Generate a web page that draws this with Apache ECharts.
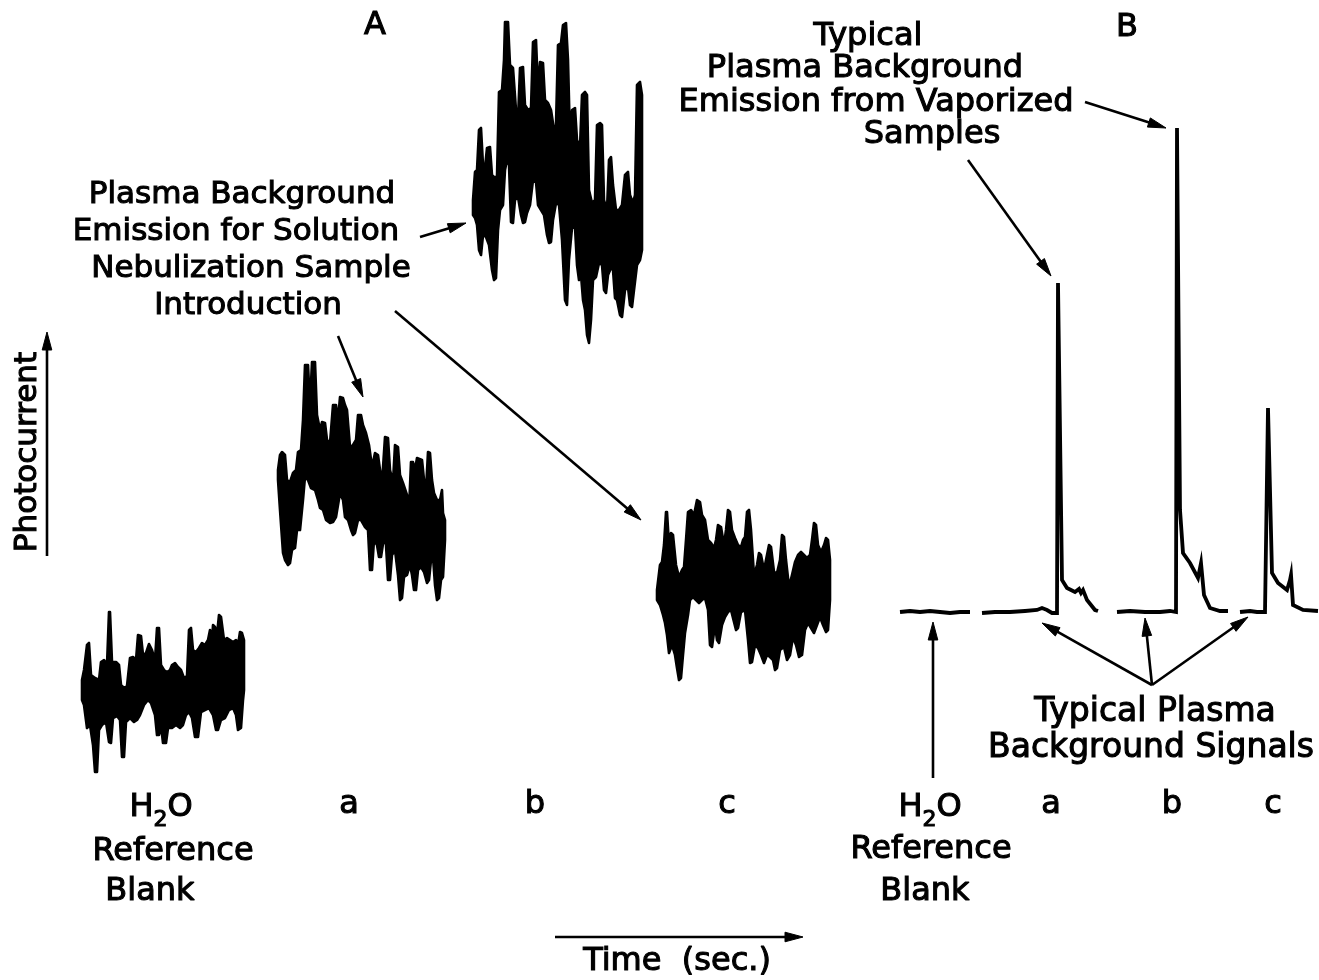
<!DOCTYPE html>
<html>
<head>
<meta charset="utf-8">
<script src="https://cdn.jsdelivr.net/npm/echarts@6/dist/echarts.min.js"></script>
<style>
  html, body { margin: 0; padding: 0; background: #fff; }
  #chart { width: 1319px; height: 980px; }
</style>
</head>
<body>
<div id="chart"></div>
<script>
// Recorder traces: time and photocurrent both in arbitrary chart units.
// Solution nebulization (panel A): each noisy trace is given by the
// upper and lower envelope of the recorded signal.
const blankA_upper = [[82,300],[84,310],[87,335],[89,337],[91,305],[95,302],[99,300],[101,318],[104,320],[107,315],[109,368],[110,368],[112,318],[116,318],[119,315],[121,295],[124,292],[127,294],[130,322],[133,323],[136,320],[138,345],[141,344],[143,325],[146,327],[149,336],[152,330],[155,320],[157,352],[159,352],[161,315],[164,310],[167,308],[170,310],[172,315],[175,317],[178,313],[181,310],[184,302],[187,304],[189,350],[191,352],[193,330],[196,328],[199,332],[202,337],[205,335],[208,340],[210,350],[212,340],[213,355],[215,353],[217,345],[219,365],[221,363],[224,340],[227,342],[230,340],[233,338],[236,340],[238,335],[240,348],[242,347],[244,340]];
const blankA_lower = [[82,280],[84,275],[87,252],[90,255],[93,235],[95,208],[97,208],[99,250],[102,255],[106,258],[109,238],[111,237],[113,262],[117,264],[120,260],[122,223],[124,223],[126,258],[130,262],[134,258],[137,260],[140,265],[144,275],[148,280],[151,277],[155,265],[157,245],[159,245],[161,255],[163,237],[166,237],[168,252],[172,252],[176,255],[180,252],[183,255],[186,265],[189,268],[192,262],[195,243],[198,243],[201,268],[205,270],[209,272],[213,265],[216,250],[218,250],[221,260],[225,262],[229,270],[233,272],[236,265],[238,250],[241,252],[243,280],[244,290]];

const sampleA_upper = [[278,510],[280,525],[282,528],[285,525],[287,500],[290,498],[293,507],[296,510],[298,528],[301,530],[303,560],[305,615],[308,615],[310,575],[312,618],[315,618],[317,565],[320,550],[322,558],[325,557],[327,540],[330,537],[333,575],[336,575],[338,560],[340,583],[343,582],[345,575],[347,570],[350,533],[353,535],[356,540],[358,565],[361,565],[363,555],[366,547],[369,535],[372,513],[375,527],[378,525],[380,510],[382,497],[385,543],[388,542],[390,510],[393,498],[395,535],[398,533],[400,505],[403,497],[407,485],[409,470],[411,518],[413,518],[415,510],[417,522],[422,520],[424,500],[426,490],[428,528],[430,527],[432,500],[434,487],[437,480],[440,480],[442,490],[443,467],[445,460]];
const sampleA_lower = [[278,500],[280,470],[283,427],[285,420],[288,415],[290,417],[292,430],[295,432],[297,450],[300,450],[303,480],[305,503],[308,500],[311,492],[315,490],[318,480],[320,472],[323,470],[326,460],[330,457],[333,458],[336,463],[338,475],[340,487],[343,480],[345,463],[348,460],[351,450],[353,445],[355,447],[358,460],[361,460],[365,453],[368,450],[370,410],[372,410],[374,440],[377,435],[379,423],[381,423],[384,443],[386,435],[388,400],[390,400],[392,425],[395,430],[398,405],[400,380],[402,382],[404,403],[407,405],[410,415],[412,405],[414,390],[416,390],[418,410],[421,413],[424,408],[427,397],[429,400],[431,420],[433,423],[435,395],[437,380],[439,382],[441,400],[443,403],[445,440]];

const sampleB_upper = [[473,780],[475,808],[477,810],[479,850],[481,852],[483,815],[485,812],[487,832],[490,833],[492,805],[495,802],[497,804],[499,888],[502,890],[504,920],[505,958],[508,958],[510,915],[513,912],[516,870],[518,860],[520,912],[523,913],[525,875],[528,870],[531,872],[533,938],[536,940],[538,890],[540,918],[543,917],[545,880],[548,877],[551,870],[554,850],[556,855],[558,935],[561,937],[563,955],[566,957],[568,920],[570,840],[572,870],[575,872],[577,840],[580,833],[582,885],[585,888],[587,885],[589,790],[592,777],[595,780],[597,855],[600,857],[602,855],[604,780],[607,770],[609,820],[611,823],[613,795],[616,770],[619,770],[622,775],[625,805],[628,808],[630,785],[633,777],[635,785],[637,895],[640,898],[642,885]];
const sampleB_lower = [[473,765],[475,762],[477,755],[479,730],[481,725],[483,745],[486,743],[489,735],[492,710],[494,700],[496,702],[498,750],[500,770],[503,775],[505,810],[507,820],[509,815],[511,758],[513,757],[515,780],[518,783],[521,765],[523,757],[525,758],[527,767],[530,775],[533,800],[536,798],[538,775],[541,770],[544,765],[547,745],[549,737],[551,738],[553,760],[556,777],[559,775],[562,740],[565,680],[567,675],[569,720],[572,752],[575,753],[577,715],[579,700],[581,705],[583,680],[585,670],[587,645],[589,637],[591,660],[593,700],[596,703],[599,717],[602,715],[604,690],[606,687],[608,705],[611,712],[613,710],[615,682],[617,680],[620,665],[622,663],[625,690],[628,693],[630,675],[632,673],[634,690],[637,715],[640,720],[642,730]];

const sampleC_upper = [[657,390],[660,415],[662,418],[664,435],[666,468],[667,468],[669,435],[671,447],[673,445],[676,415],[679,403],[682,410],[684,413],[686,440],[688,468],[691,470],[694,465],[697,480],[700,478],[702,465],[705,460],[708,440],[711,437],[714,432],[716,440],[718,455],[721,453],[724,435],[726,450],[728,470],[730,468],[732,450],[735,442],[738,435],[741,433],[743,440],[745,443],[747,468],[749,470],[751,450],[754,405],[757,415],[759,427],[761,425],[764,410],[767,425],[769,435],[771,433],[774,408],[777,407],[780,420],[782,445],[784,443],[786,420],[789,393],[792,405],[795,418],[798,425],[801,428],[804,425],[807,422],[810,425],[812,440],[814,457],[816,455],[818,435],[821,428],[824,435],[826,442],[828,440],[830,420]];
const sampleC_lower = [[657,380],[660,375],[663,365],[665,357],[667,345],[669,327],[672,335],[675,325],[677,312],[679,300],[681,302],[683,325],[685,347],[688,365],[690,380],[693,383],[696,380],[699,377],[702,380],[705,382],[708,370],[710,335],[712,333],[715,355],[717,340],[719,337],[722,355],[725,363],[728,368],[731,370],[734,358],[736,350],[738,352],[741,368],[745,370],[748,340],[750,317],[752,318],[755,335],[758,332],[761,325],[764,317],[767,325],[770,323],[773,320],[775,310],[777,312],[780,330],[784,333],[787,320],[790,325],[793,343],[796,335],[799,323],[802,325],[805,350],[808,357],[811,352],[814,347],[817,355],[820,363],[823,355],[826,348],[828,350],[830,380]];

// Electrothermal vaporization (panel B): single-pass traces.
const blankB = [[900,368],[910,369],[920,368],[930,369],[940,368],[950,367],[960,368],[970,368]];
const vapA = [[982,367],[995,368],[1010,368],[1025,369],[1037,370],[1042,372],[1047,370],[1052,367],[1057,367],[1058,697],[1062,400],[1067,392],[1075,388],[1079,391],[1081,387],[1083,390],[1087,380],[1091,375],[1095,370],[1098,369]];
const vapB = [[1117,368],[1130,369],[1145,368],[1160,368],[1170,369],[1176,368],[1177,852],[1180,470],[1183,427],[1190,417],[1198,402],[1201,417],[1202,417],[1204,385],[1210,372],[1220,369],[1228,369]];
const vapC = [[1240,368],[1250,369],[1257,368],[1265,368],[1267,368],[1268,572],[1272,407],[1278,397],[1287,390],[1290,400],[1291,405],[1293,375],[1303,370],[1318,369]];

// Annotation text and pointer arrows, placed in chart units.
const FONT = '"DejaVu Sans", "Liberation Sans", sans-serif';
const H2O = '{n|H}{s|2}{n|O}';
const notes = [
  { text: 'A', at: [375, 954], size: 32 },
  { text: 'B', at: [1127, 952], size: 32 },
  { text: 'Typical', at: [868, 943], size: 32 },
  { text: 'Plasma Background', at: [865, 911], size: 32 },
  { text: 'Emission from Vaporized', at: [876, 877], size: 32 },
  { text: 'Samples', at: [932, 845], size: 32 },
  { text: 'Plasma Background', at: [242, 785], size: 31 },
  { text: 'Emission for Solution', at: [236, 748], size: 31 },
  { text: 'Nebulization Sample', at: [251, 711], size: 31 },
  { text: 'Introduction', at: [248, 674], size: 31 },
  { text: 'Photocurrent', at: [28, 528], size: 31, rotate: true },
  { text: H2O, at: [161, 172], size: 32 },
  { text: 'Reference', at: [173, 128], size: 32 },
  { text: 'Blank', at: [150, 88], size: 32 },
  { text: 'a', at: [349, 175], size: 32 },
  { text: 'b', at: [535, 175], size: 32 },
  { text: 'c', at: [727, 175], size: 32 },
  { text: H2O, at: [930, 172], size: 32 },
  { text: 'Reference', at: [931, 130], size: 32 },
  { text: 'Blank', at: [925, 88], size: 32 },
  { text: 'a', at: [1051, 175], size: 32 },
  { text: 'b', at: [1172, 175], size: 32 },
  { text: 'c', at: [1273, 175], size: 32 },
  { text: 'Typical Plasma', at: [1155, 268], size: 33 },
  { text: 'Background Signals', at: [1151, 232], size: 33 },
  { text: 'Time  (sec.)', at: [677, 18], size: 32 }
];

// [fromTime, fromValue, toTime, toValue]
const pointers = [
  [420, 743, 466, 757],
  [338, 644, 363, 583],
  [395, 669, 641, 460],
  [1085, 878, 1166, 852],
  [968, 820, 1051, 704],
  [1152, 295, 1042, 357],
  [1152, 295, 1145, 362],
  [1152, 295, 1248, 363],
  [933, 202, 933, 358],
  [555, 43, 803, 43],
  [47, 424, 47, 648]
];

function band(name, upper, lower) {
  const outline = upper.concat(lower.slice().reverse());
  return {
    name, type: 'custom', coordinateSystem: 'cartesian2d',
    data: outline, encode: { x: 0, y: 1 }, silent: true,
    renderItem(params, api) {
      if (params.dataIndex !== 0) return null;
      return {
        type: 'polygon',
        shape: { points: outline.map(p => api.coord(p)) },
        style: { fill: '#000', stroke: '#000', lineWidth: 2.6, lineJoin: 'round' }
      };
    }
  };
}

function trace(name, data) {
  return {
    name, type: 'line', data, showSymbol: false, silent: true,
    lineStyle: { color: '#000', width: 3.8, join: 'miter' }
  };
}

const chart = echarts.init(document.getElementById('chart'), null, { renderer: 'canvas' });
chart.setOption({
  backgroundColor: '#fff',
  animation: false,
  grid: { left: 0, right: 0, top: 0, bottom: 0 },
  xAxis: { type: 'value', min: 0, max: 1319, show: false },
  yAxis: { type: 'value', min: 0, max: 980, show: false },
  series: [
    band('H2O blank, nebulization', blankA_upper, blankA_lower),
    band('Sample a, nebulization', sampleA_upper, sampleA_lower),
    band('Sample b, nebulization', sampleB_upper, sampleB_lower),
    band('Sample c, nebulization', sampleC_upper, sampleC_lower),
    trace('H2O blank, vaporization', blankB),
    trace('Sample a, vaporization', vapA),
    trace('Sample b, vaporization', vapB),
    trace('Sample c, vaporization', vapC),
    {
      name: 'pointers', type: 'custom', coordinateSystem: 'cartesian2d',
      data: pointers, encode: { x: [0, 2], y: [1, 3] }, silent: true,
      renderItem(params, api) {
        const a = api.coord([api.value(0), api.value(1)]);
        const b = api.coord([api.value(2), api.value(3)]);
        const dx = b[0] - a[0], dy = b[1] - a[1];
        const L = Math.hypot(dx, dy), ux = dx / L, uy = dy / L;
        const hl = 18, hw = 4.8;
        const bx = b[0] - ux * hl, by = b[1] - uy * hl;
        return {
          type: 'group',
          children: [
            { type: 'line', shape: { x1: a[0], y1: a[1], x2: bx + ux * 2, y2: by + uy * 2 },
              style: { stroke: '#000', lineWidth: 2.6 } },
            { type: 'polygon',
              shape: { points: [b, [bx - uy * hw, by + ux * hw], [bx + uy * hw, by - ux * hw]] },
              style: { fill: '#000', stroke: '#000', lineWidth: 1 } }
          ]
        };
      }
    },
    {
      name: 'notes', type: 'custom', coordinateSystem: 'cartesian2d',
      data: notes.map(n => n.at), encode: { x: 0, y: 1 }, silent: true,
      renderItem(params, api) {
        const n = notes[params.dataIndex];
        const p = api.coord(n.at);
        // a thin outline of the glyphs gives the heavier lettering weight
        const ink = { fill: '#000', fontFamily: FONT, stroke: '#000', lineWidth: 1.1 };
        return {
          type: 'text', x: p[0], y: p[1], rotation: n.rotate ? Math.PI / 2 : 0,
          style: Object.assign({
            text: n.text, fontSize: n.size,
            align: 'center', verticalAlign: 'middle',
            rich: {
              n: Object.assign({ fontSize: n.size, lineHeight: 46, verticalAlign: 'middle' }, ink),
              s: Object.assign({ fontSize: Math.round(n.size * 0.7), lineHeight: 22, verticalAlign: 'bottom' }, ink)
            }
          }, ink)
        };
      }
    }
  ]
});
</script>
</body>
</html>
